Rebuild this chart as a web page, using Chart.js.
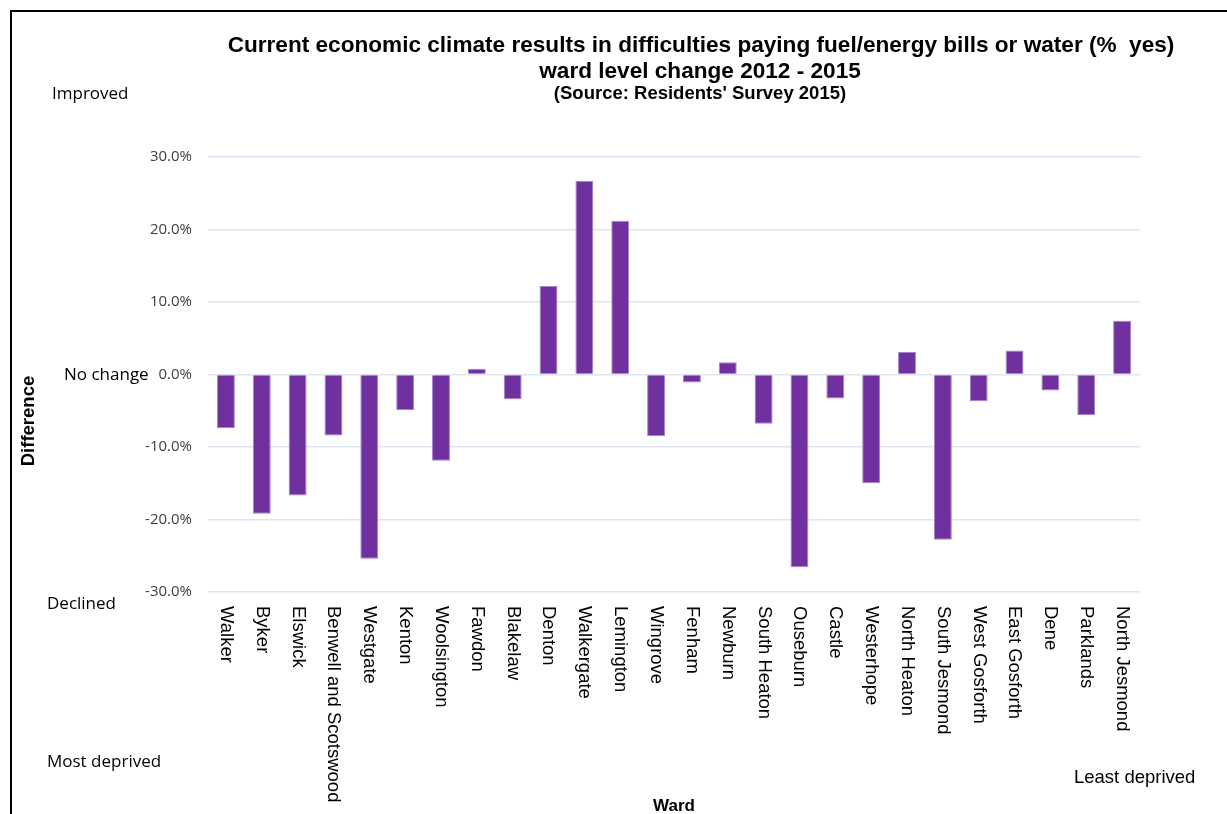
<!DOCTYPE html>
<html>
<head>
<meta charset="utf-8">
<script src="https://cdn.jsdelivr.net/npm/chart.js@4"></script>
<style>
  html, body { margin: 0; padding: 0; background: #fff; }
  canvas { display: block; }
</style>
</head>
<body>
<canvas id="chart1" width="1227" height="814"></canvas>
<script>
// wards ordered from most to least deprived
const wards = ['Walker', 'Byker', 'Elswick', 'Benwell and Scotswood', 'Westgate', 'Kenton',
  'Woolsington', 'Fawdon', 'Blakelaw', 'Denton', 'Walkergate', 'Lemington', 'Wingrove',
  'Fenham', 'Newburn', 'South Heaton', 'Ouseburn', 'Castle', 'Westerhope', 'North Heaton',
  'South Jesmond', 'West Gosforth', 'East Gosforth', 'Dene', 'Parklands', 'North Jesmond'];
// change in % yes, 2012 -> 2015
const difference = [-7.4, -19.2, -16.7, -8.4, -25.4, -4.9,
  -11.9, 0.8, -3.4, 12.2, 26.7, 21.2, -8.5,
  -1.1, 1.7, -6.8, -26.6, -3.3, -15.0, 3.1,
  -22.8, -3.7, 3.3, -2.2, -5.6, 7.4];
const yTicks = [-30, -20, -10, 0, 10, 20, 30];
const titleLines = ['Current economic climate results in difficulties paying fuel/energy bills or water (%  yes)',
  'ward level change 2012 - 2015'];
const subTitle = "(Source: Residents' Survey 2015)";

const ctx = document.getElementById('chart1');

const wardText = {
  id: 'wardText',
  afterDraw(chart) {
    const {ctx, scales} = chart;
    const x = scales.x;
    ctx.save();
    // frame
    ctx.fillStyle = '#000';
    ctx.fillRect(10, 10, 1217, 2);
    ctx.fillRect(10, 10, 2, 804);

    // title
    ctx.textAlign = 'center';
    ctx.textBaseline = 'alphabetic';
    ctx.font = 'bold 22.6px "Liberation Sans", Arial, sans-serif';
    ctx.fillText(titleLines[0], 701, 52);
    ctx.fillText(titleLines[1], 700, 78);
    ctx.font = 'bold 18.5px "Liberation Sans", Arial, sans-serif';
    ctx.fillText(subTitle, 700, 99);

    // side notes
    ctx.textAlign = 'left';
    ctx.textBaseline = 'middle';
    ctx.font = '17px "Open Sans", sans-serif';
    ctx.fillText('Improved', 52, 94);
    ctx.fillText('No change', 64, 375);
    ctx.fillText('Declined', 47, 604);
    ctx.fillText('Most deprived', 47, 762);
    ctx.font = '18.5px "Liberation Sans", Arial, sans-serif';
    ctx.fillText('Least deprived', 1074, 778);

    // ward names, rotated to read downwards
    ctx.font = '18.5px "Liberation Sans", Arial, sans-serif';
    wards.forEach((w, i) => {
      ctx.save();
      ctx.translate(x.getPixelForValue(i), 606);
      ctx.rotate(Math.PI / 2);
      ctx.textAlign = 'left';
      ctx.textBaseline = 'middle';
      ctx.fillText(w, 0, 0);
      ctx.restore();
    });

    // axis titles
    ctx.font = 'bold 17px "Liberation Sans", Arial, sans-serif';
    ctx.textAlign = 'center';
    ctx.fillText('Ward', 674, 806);
    ctx.save();
    ctx.translate(29, 421);
    ctx.rotate(-Math.PI / 2);
    ctx.font = 'bold 18.5px "Liberation Sans", Arial, sans-serif';
    ctx.fillText('Difference', 0, 0);
    ctx.restore();
    ctx.restore();
  }
};

new Chart(ctx, {
  type: 'bar',
  data: {
    labels: wards,
    datasets: [{
      label: 'Difference',
      data: difference,
      backgroundColor: '#7030a0',
      borderColor: '#a583c8',
      borderWidth: 1,
      barPercentage: 0.5,
      categoryPercentage: 1.0
    }]
  },
  options: {
    responsive: false,
    animation: false,
    devicePixelRatio: 1,
    layout: { padding: { top: 157, right: 87, bottom: 0, left: 0 } },
    plugins: {
      legend: { display: false },
      tooltip: { enabled: false }
    },
    scales: {
      x: {
        grid: { display: false },
        border: { display: false },
        ticks: { display: false },
        afterFit(scale) { scale.height = 222; }
      },
      y: {
        min: -30,
        max: 30,
        afterBuildTicks(scale) { scale.ticks = yTicks.map(v => ({ value: v })); },
        ticks: {
          padding: 16,
          color: '#404040',
          font: { family: '"Open Sans", sans-serif', size: 15 },
          callback: v => v.toFixed(1) + '%'
        },
        grid: { color: '#dce6f2', lineWidth: 1.5, drawTicks: false },
        border: { display: false },
        afterFit(scale) { scale.width = 208; }
      }
    }
  },
  plugins: [wardText]
});
</script>
</body>
</html>
